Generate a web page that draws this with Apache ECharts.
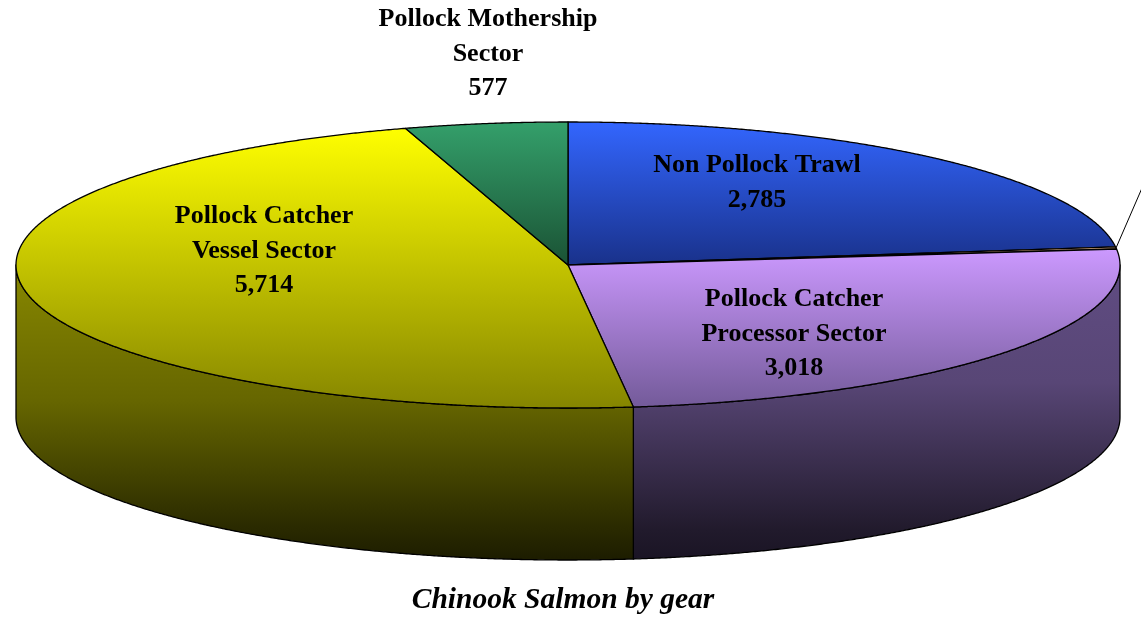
<!DOCTYPE html>
<html>
<head>
<meta charset="utf-8">
<script src="https://cdn.jsdelivr.net/npm/echarts@6/dist/echarts.min.js"></script>
<style>
  html, body { margin: 0; padding: 0; background: #fff; }
  #main { width: 1141px; height: 621px; }
</style>
</head>
<body>
<div id="main"></div>
<script>
// 数据
var sectors = ['Non Pollock Trawl', 'Other', 'Pollock Catcher\nProcessor Sector', 'Pollock Catcher\nVessel Sector', 'Pollock Mothership\nSector']
var chinook = [2785, 30, 3018, 5714, 577]
var chartTitle = 'Chinook Salmon by gear'

// 颜色 (top face / side wall gradients)
var topColors = [['#3366ff', '#19318a'], ['#ffcc99', '#cc9966'], ['#cc99ff', '#735a99'], ['#ffff00', '#858500'], ['#34a06b', '#1a5234']]
var sideColors = [
  [[0, '#1a3380'], [1, '#0a1433']],
  [[0, '#806040'], [1, '#302010']],
  [[0, '#604c82'], [0.4, '#584676'], [0.9, '#211a2c'], [1, '#1a1424']],
  [[0, '#888800'], [0.46, '#666600'], [0.86, '#2e2e00'], [1, '#1c1c00']],
  [[0, '#1a5033'], [1, '#0a2014']]
]
// label block centres (px)
var labelAt = [[757, 183], null, [794, 334], [264, 251], [488, 54]]

var total = chinook.reduce(function (a, b) { return a + b }, 0)
var depth = 1.063

function grad(stops) {
  return { type: 'linear', x: 0, y: 0, x2: 0, y2: 1, colorStops: stops.map(function (s) { return { offset: s[0], color: s[1] } }) }
}

function renderSlice(params, api) {
  var i = params.dataIndex
  var before = 0
  for (var k = 0; k < i; k++) before += chinook[k]
  var a0 = before / total * 2 * Math.PI
  var a1 = (before + api.value(2)) / total * 2 * Math.PI
  var pt = function (t, drop) { return api.coord([Math.sin(t), Math.cos(t) - (drop || 0)]) }
  var arc = function (s, e, drop) {
    var pts = [], n = Math.max(2, Math.ceil((e - s) / 0.004))
    for (var j = 0; j <= n; j++) pts.push(pt(s + (e - s) * j / n, drop))
    return pts
  }
  var children = []
  var s = Math.max(a0, Math.PI / 2), e = Math.min(a1, 1.5 * Math.PI)
  if (e > s) {
    children.push({
      type: 'polygon',
      shape: { points: arc(s, e, 0).concat(arc(s, e, depth).reverse()) },
      style: { fill: grad(sideColors[i]), stroke: '#000', lineWidth: 1.3, lineJoin: 'round' }
    })
  }
  children.push({
    type: 'polygon',
    shape: { points: [api.coord([0, 0])].concat(arc(a0, a1, 0)) },
    style: { fill: grad([[0, topColors[i][0]], [1, topColors[i][1]]]), stroke: '#000', lineWidth: 1.3, lineJoin: 'round' }
  })
  if (!labelAt[i]) {
    var p = pt((a0 + a1) / 2, 0)
    children.push({ type: 'line', shape: { x1: p[0], y1: p[1], x2: p[0] + 52, y2: p[1] - 120 }, style: { stroke: '#000', lineWidth: 1 } })
  }
  return { type: 'group', children: children }
}

var labelGraphics = []
chinook.forEach(function (v, i) {
  if (!labelAt[i]) return
  labelGraphics.push({
    type: 'text', x: labelAt[i][0], y: labelAt[i][1], z: 100,
    style: {
      text: sectors[i] + '\n' + v.toLocaleString('en-US'),
      font: 'bold 26px "Liberation Serif"', fill: '#000',
      align: 'center', verticalAlign: 'middle', lineHeight: 34.5
    }
  })
})
labelGraphics.push({
  type: 'text', x: 563, y: 600, z: 100,
  style: { text: chartTitle, font: 'italic bold 29.5px "Liberation Serif"', fill: '#000', align: 'center', verticalAlign: 'middle' }
})

var pieChart = echarts.init(document.getElementById('main'))
pieChart.setOption({
  animation: false,
  backgroundColor: '#fff',
  grid: { left: 16, right: 21, top: 122, bottom: 61 },
  xAxis: { type: 'value', min: -1, max: 1, show: false },
  yAxis: { type: 'value', min: -1 - depth, max: 1, show: false },
  series: [{
    type: 'custom',
    clip: false,
    renderItem: renderSlice,
    data: chinook.map(function (v) { return [0, 0, v] })
  }],
  graphic: labelGraphics
})
</script>
</body>
</html>
